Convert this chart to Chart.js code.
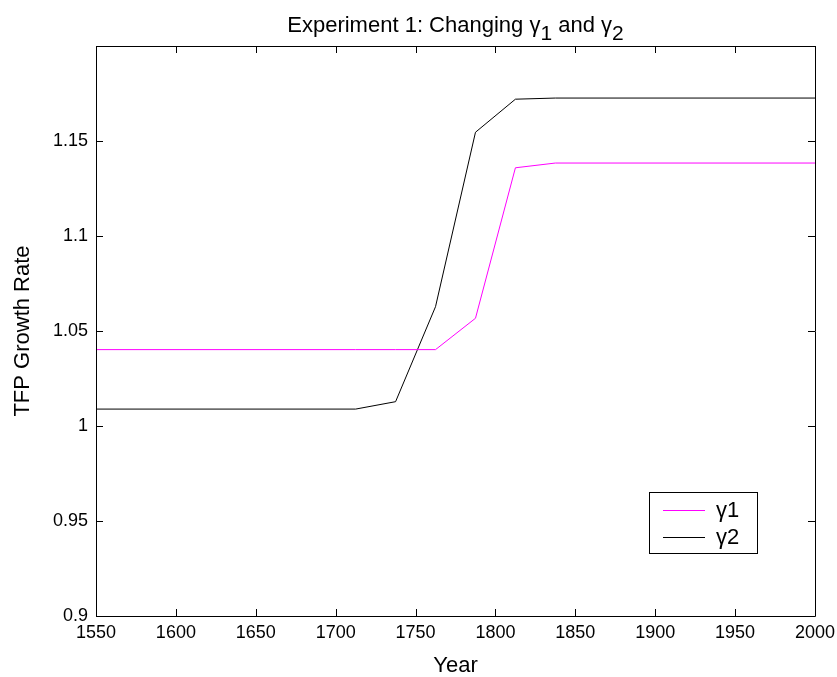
<!DOCTYPE html>
<html>
<head>
<meta charset="utf-8">
<script src="https://cdn.jsdelivr.net/npm/chart.js@4/dist/chart.umd.min.js"></script>
<style>
  html, body { margin: 0; padding: 0; background: #fff; }
  #wrap { position: relative; width: 837px; height: 677px; font-family: 'Liberation Sans', Arial, sans-serif; }
  #title { position: absolute; left: 96px; width: 719px; top: 12px; text-align: center; font-size: 22px; color: #000; line-height: 26px; }
  #title sub { font-size: 21px; vertical-align: -8px; line-height: 0; }
  canvas { position: absolute; left: 0; top: 0; }
</style>
</head>
<body>
<div id="wrap">
  <canvas id="c" width="837" height="677"></canvas>
  <div id="title">Experiment 1: Changing γ<sub>1</sub> and γ<sub>2</sub></div>
</div>
<script>
const years = [1550, 1712.5, 1737.5, 1762.5, 1787.5, 1812.5, 1837.5, 2000];
const gamma1 = [1.0402, 1.0402, 1.0402, 1.0402, 1.0567, 1.1359, 1.1384, 1.1384];
const gamma2 = [1.0089, 1.0089, 1.0128, 1.0628, 1.1546, 1.1720, 1.1726, 1.1726];
const seriesLabels = ['γ1', 'γ2'];
const xTicks = [1550, 1600, 1650, 1700, 1750, 1800, 1850, 1900, 1950, 2000];
const yTicks = [0.9, 0.95, 1.0, 1.05, 1.1, 1.15, 1.2];

const FONT = "'Liberation Sans', Arial, sans-serif";

const boxPlugin = {
  id: 'boxPlugin',
  afterDraw(chart) {
    const ctx = chart.ctx;
    const a = chart.chartArea;
    const xs = chart.scales.x, ys = chart.scales.y;
    const L = 7;
    ctx.save();
    ctx.strokeStyle = '#000';
    ctx.lineWidth = 1;
    ctx.beginPath();
    ctx.rect(Math.round(a.left) + 0.5, Math.round(a.top) + 0.5, Math.round(a.right - a.left), Math.round(a.bottom - a.top));
    ctx.stroke();
    ctx.beginPath();
    xTicks.forEach(v => {
      const px = Math.round(xs.getPixelForValue(v)) + 0.5;
      ctx.moveTo(px, a.bottom); ctx.lineTo(px, a.bottom - L);
      ctx.moveTo(px, a.top); ctx.lineTo(px, a.top + L);
    });
    yTicks.forEach(v => {
      const py = Math.round(ys.getPixelForValue(v)) + 0.5;
      ctx.moveTo(a.left, py); ctx.lineTo(a.left + L, py);
      ctx.moveTo(a.right, py); ctx.lineTo(a.right - L, py);
    });
    ctx.stroke();

    // legend
    const lx = 649.5, ly = 492.5, lw = 108, lh = 61;
    ctx.fillStyle = '#fff';
    ctx.fillRect(lx, ly, lw, lh);
    ctx.strokeRect(lx, ly, lw, lh);
    ctx.font = '22px ' + FONT;
    ctx.textBaseline = 'middle';
    const rows = [510, 537];
    chart.data.datasets.forEach((ds, i) => {
      ctx.strokeStyle = ds.borderColor;
      ctx.beginPath();
      ctx.moveTo(663, rows[i] + 0.5);
      ctx.lineTo(705, rows[i] + 0.5);
      ctx.stroke();
      ctx.fillStyle = '#000';
      ctx.fillText(ds.label, 716, rows[i] + 1);
    });
    ctx.restore();
  }
};

new Chart(document.getElementById('c'), {
  type: 'line',
  data: {
    datasets: [
      { label: seriesLabels[0], data: years.map((x, i) => ({ x, y: gamma1[i] })), borderColor: '#ff00ff', borderWidth: 1, pointRadius: 0, tension: 0, fill: false },
      { label: seriesLabels[1], data: years.map((x, i) => ({ x, y: gamma2[i] })), borderColor: '#000000', borderWidth: 1, pointRadius: 0, tension: 0, fill: false }
    ]
  },
  options: {
    responsive: false,
    animation: false,
    devicePixelRatio: 1,
    layout: { padding: { top: 46, right: 22, left: 0, bottom: 0 } },
    plugins: { legend: { display: false }, title: { display: false }, tooltip: { enabled: false } },
    scales: {
      x: {
        type: 'linear', min: 1550, max: 2000,
        afterBuildTicks: s => { s.ticks = xTicks.map(v => ({ value: v })); },
        afterFit: s => { s.height = 61; s.paddingLeft = 0; s.paddingRight = 0; },
        grid: { display: false, drawTicks: false },
        border: { display: false },
        ticks: { color: '#000', font: { family: FONT, size: 18 }, padding: 6, maxRotation: 0, autoSkip: false, callback: v => String(v) },
        title: { display: true, text: 'Year', color: '#000', font: { family: FONT, size: 22, lineHeight: 1 }, padding: { top: 0, bottom: 0 } }
      },
      y: {
        type: 'linear', min: 0.9, max: 1.2,
        afterBuildTicks: s => { s.ticks = yTicks.map(v => ({ value: v })); },
        afterFit: s => { s.width = 96; s.paddingTop = 0; s.paddingBottom = 0; },
        grid: { display: false, drawTicks: false },
        border: { display: false },
        ticks: { color: '#000', font: { family: FONT, size: 18 }, padding: 8, autoSkip: false,
          callback: v => v > 1.19 ? '' : String(Number(v.toFixed(2))) },
        title: { display: true, text: 'TFP Growth Rate', color: '#000', font: { family: FONT, size: 22, lineHeight: 1 }, padding: { top: 12, bottom: 0 } }
      }
    }
  },
  plugins: [boxPlugin]
});
</script>
</body>
</html>
